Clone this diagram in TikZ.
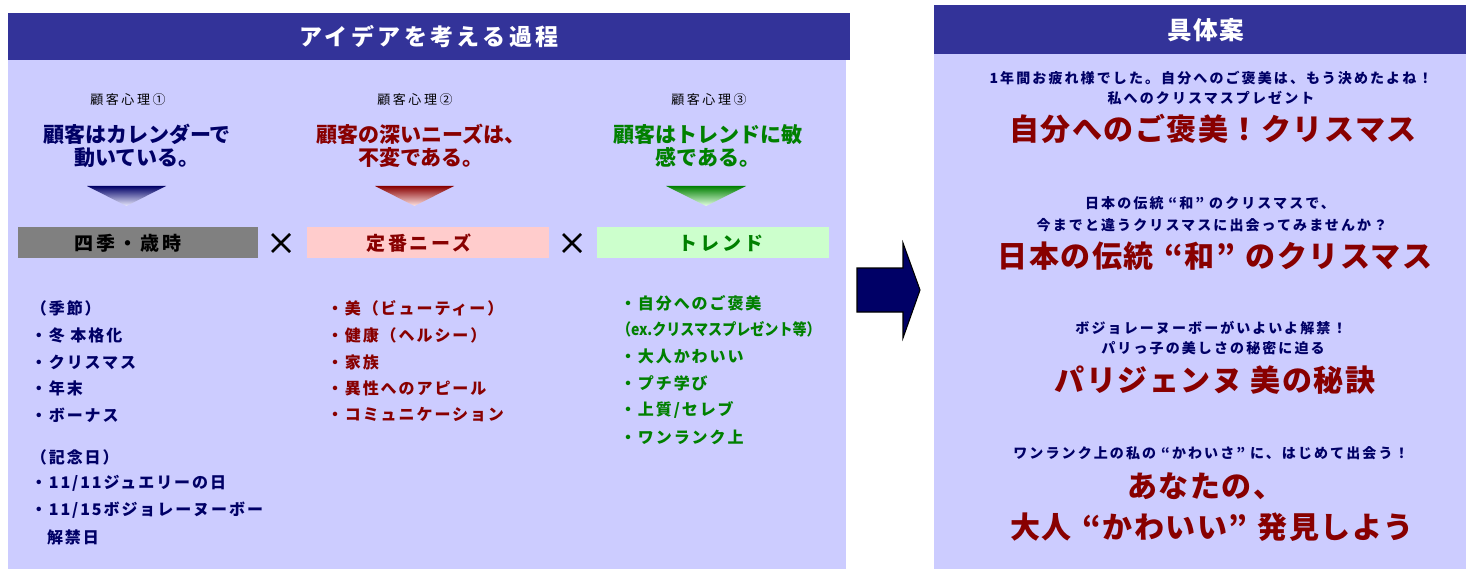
\documentclass[tikz,border=0pt]{standalone}
\usepackage{fontspec}
\setmainfont{Noto Sans CJK JP}
\newfontfamily\lsA{Noto Sans CJK JP}[LetterSpace=15]
\newfontfamily\lsB{Noto Sans CJK JP}[LetterSpace=5]
\newfontfamily\lsC{Noto Sans CJK JP}[LetterSpace=20]
\newfontfamily\lsD{Noto Sans CJK JP}[LetterSpace=12]
\definecolor{hdr}{HTML}{333399}
\definecolor{panel}{HTML}{CCCCFF}
\definecolor{navy}{HTML}{000066}
\definecolor{dred}{HTML}{880000}
\definecolor{dgreen}{HTML}{008000}
\definecolor{graybox}{HTML}{808080}
\definecolor{pinkbox}{HTML}{FFCCCC}
\definecolor{greenbox}{HTML}{CCFFCC}
\newcommand\qo{\kern0.35em“}
\newcommand\qc{”\kern0.35em}
\tikzset{
  txt/.style={inner sep=0pt, outer sep=0pt},
  hdrtitle/.style={txt, text=white, font=\lsA\bfseries\fontsize{17.25pt}{17.25pt}\selectfont},
  psy/.style={txt, text=black, font=\lsC\fontsize{9.75pt}{9.75pt}\selectfont},
  bigL/.style={txt, align=center, font=\bfseries\fontsize{15.75pt}{17.25pt}\selectfont},
  boxlbl/.style={txt, font=\lsA\bfseries\fontsize{14.25pt}{14.25pt}\selectfont},
  item/.style={txt, anchor=west, font=\lsD\bfseries\fontsize{12pt}{12pt}\selectfont},
  itemplain/.style={txt, anchor=west, font=\bfseries\fontsize{12pt}{12pt}\selectfont},
  subR/.style={txt, text=navy, font=\lsA\bfseries\fontsize{10.5pt}{10.5pt}\selectfont},
  bigR/.style={txt, text=dred, font=\lsB\bfseries\fontsize{22.5pt}{22.5pt}\selectfont},
  xmark/.style={line width=1.9pt, black},
}
\begin{document}
\begin{tikzpicture}[x=0.75pt, y=-0.75pt]
\useasboundingbox (0,0) rectangle (1466,570);
% ---------------- left panel ----------------
\fill[panel] (8,60) rectangle (846,569);
\fill[hdr] (8,13) rectangle (850,60);
\node[hdrtitle] (ltitle) at (429,37) {アイデアを考える過程};

\node[psy] (p1) at (128,100) {顧客心理①};
\node[psy] (p2) at (415,100) {顧客心理②};
\node[psy] (p3) at (709,100) {顧客心理③};

\node[bigL, text=navy] (b1) at (137,146) {顧客はカレンダーで\\動いている。};
\node[bigL, text=dred] (b2) at (421,146) {顧客の深いニーズは、\\不変である。};
\node[bigL, text=dgreen] (b3) at (708,146) {顧客はトレンドに敏\\感である。};

\shade[top color=navy, bottom color=panel!40!white] (87,186) -- (166,186) -- (126.5,206) -- cycle;
\shade[top color=dred, bottom color=pinkbox!50!white] (375,186) -- (454,186) -- (414.5,206) -- cycle;
\shade[top color=dgreen, bottom color=greenbox!50!white] (666,186) -- (746,186) -- (706,206) -- cycle;

\fill[graybox] (18,227) rectangle (258,258);
\fill[pinkbox] (307,227) rectangle (549,258);
\fill[greenbox] (597,227) rectangle (829,258);
\node[boxlbl, text=black] (k1) at (128,243) {四季・歳時};
\node[boxlbl, text=dred] (k2) at (419,243) {定番ニーズ};
\node[boxlbl, text=dgreen] (k3) at (721,243) {トレンド};

\coordinate (xa1) at (272,234); \coordinate (xa2) at (290,252);
\coordinate (xa3) at (272,252); \coordinate (xa4) at (290,234);
\draw[xmark] (xa1) -- (xa2); \draw[xmark] (xa3) -- (xa4);
\coordinate (xb1) at (563,234); \coordinate (xb2) at (581,252);
\coordinate (xb3) at (563,252); \coordinate (xb4) at (581,234);
\draw[xmark] (xb1) -- (xb2); \draw[xmark] (xb3) -- (xb4);

% column 1
\begin{scope}[every node/.append style={text=navy}]
\node[item] (c1a) at (31,308) {（季節）};
\node[item] (c1b) at (31,335) {・冬 本格化};
\node[item] (c1c) at (31,362) {・クリスマス};
\node[item] (c1d) at (31,388) {・年末};
\node[item] (c1e) at (31,415) {・ボーナス};
\node[item] (c1f) at (31,457) {（記念日）};
\node[item] (c1g) at (31,483) {・11/11ジュエリーの日};
\node[item] (c1h) at (31,510) {・11/15ボジョレーヌーボー};
\node[item] (c1i) at (47,537) {解禁日};
\end{scope}
% column 2
\begin{scope}[every node/.append style={text=dred}]
\node[item] (c2a) at (327,308) {・美（ビューティー）};
\node[item] (c2b) at (327,335) {・健康（ヘルシー）};
\node[item] (c2c) at (327,362) {・家族};
\node[item] (c2d) at (327,388) {・異性へのアピール};
\node[item] (c2e) at (327,415) {・コミュニケーション};
\end{scope}
% column 3
\begin{scope}[every node/.append style={text=dgreen}]
\node[item] (c3a) at (620,303) {・自分へのご褒美};
\node[itemplain] (c3b) at (617,329) {\scalebox{0.88}[1]{（ex.クリスマスプレゼント等）}};
\node[item] (c3c) at (620,356) {・大人かわいい};
\node[item] (c3d) at (620,383) {・プチ学び};
\node[item] (c3e) at (620,410) {・上質/セレブ};
\node[item] (c3f) at (620,437) {・ワンランク上};
\end{scope}

% ---------------- arrow ----------------
\coordinate (a1) at (857,268); \coordinate (a2) at (903,268);
\coordinate (a3) at (903,243); \coordinate (a4) at (920,290);
\coordinate (a5) at (903,338); \coordinate (a6) at (903,312);
\coordinate (a7) at (857,312);
\draw[fill=navy, draw=black, line width=0.8pt, line join=miter]
  (a1) -- (a2) -- (a3) -- (a4) -- (a5) -- (a6) -- (a7) -- cycle;

% ---------------- right panel ----------------
\fill[panel] (934,54) rectangle (1466,569);
\fill[hdr] (934,5) rectangle (1466,54);
\node[hdrtitle, font=\lsB\bfseries\fontsize{18.5pt}{18.5pt}\selectfont] (rtitle) at (1206,30) {具体案};

\node[subR] (s1) at (1211,78) {1年間お疲れ様でした。自分へのご褒美は、もう決めたよね！};
\node[subR] (s2) at (1211,98) {私へのクリスマスプレゼント};
\node[bigR] (r1) at (1213,129) {自分へのご褒美！クリスマス};

\node[subR] (s3) at (1210,203) {日本の伝統\qo 和\qc のクリスマスで、};
\node[subR] (s4) at (1212,225) {今までと違うクリスマスに出会ってみませんか？};
\node[bigR] (r2) at (1215,256) {日本の伝統\qo 和\qc のクリスマス};

\node[subR] (s5) at (1211,328) {ボジョレーヌーボーがいよいよ解禁！};
\node[subR] (s6) at (1213,348) {パリっ子の美しさの秘密に迫る};
\node[bigR] (r3) at (1215,380) {パリジェンヌ 美の秘訣};

\node[subR] (s7) at (1211,453) {ワンランク上の私の\qo かわいさ\qc に、はじめて出会う！};
\node[bigR] (r4) at (1205,486) {あなたの、};
\node[bigR] (r5) at (1212,527) {大人\qo かわいい\qc 発見しよう};
\end{tikzpicture}
\end{document}
